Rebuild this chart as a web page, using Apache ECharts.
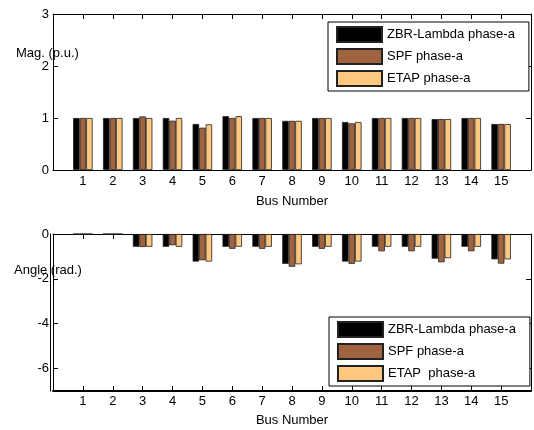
<!DOCTYPE html>
<html><head><meta charset="utf-8">
<script src="https://cdn.jsdelivr.net/npm/echarts@6/dist/echarts.min.js"></script>
<style>html,body{margin:0;padding:0;background:#fff}#c{width:534px;height:430px}</style>
</head><body><div id="c"></div>
<script>
const buses = [1,2,3,4,5,6,7,8,9,10,11,12,13,14,15];
const magZBR  = [1.0,1.0,1.0,1.0,0.885,1.035,1.0,0.945,1.0,0.923,1.0,1.0,0.98,1.0,0.885];
const magSPF  = [1.0,1.0,1.03,0.948,0.813,1.0,1.0,0.945,1.0,0.897,1.0,1.0,0.98,1.0,0.885];
const magETAP = [1.0,1.0,1.0,1.0,0.878,1.035,1.0,0.945,1.0,0.923,1.0,1.0,0.98,1.0,0.885];
const angZBR  = [0,0,-0.57,-0.57,-1.23,-0.57,-0.57,-1.33,-0.57,-1.23,-0.57,-0.57,-1.1,-0.57,-1.13];
const angSPF  = [0,0,-0.58,-0.5,-1.17,-0.66,-0.66,-1.46,-0.66,-1.33,-0.77,-0.77,-1.26,-0.77,-1.32];
const angETAP = [0,0,-0.57,-0.57,-1.23,-0.57,-0.57,-1.35,-0.57,-1.23,-0.57,-0.57,-1.08,-0.57,-1.13];
const magTicks = [0,1,2,3];
const angTicks = [0,-2,-4,-6];
const namesTop = ['ZBR-Lambda phase-a','SPF phase-a','ETAP phase-a'];
const namesBot = ['ZBR-Lambda phase-a','SPF phase-a','ETAP  phase-a'];
const colors = ['#000000','#9f643f','#ffc77f'];

const FONT = "'Liberation Sans', Arial, sans-serif";
const txt = {color:'#000', fontSize:13, fontFamily:FONT};
const pairs = (ys) => buses.map((b,i)=>[b, ys[i]]);

function xAxes(gi, bottomW, nameGap, margin){
  return [{
    gridIndex:gi, type:'value', position:'bottom', min:0, max:16, interval:1,
    axisLine:{show:true, onZero:false, lineStyle:{color:'#000', width:bottomW}},
    axisTick:{show:true, inside:true, length:5, lineStyle:{color:'#000'}},
    axisLabel:{...txt, margin:margin, formatter:(v)=> (v>=1 && v<=15) ? String(v) : ''},
    splitLine:{show:false},
    name:'Bus Number', nameLocation:'middle', nameGap:nameGap, nameTextStyle:{...txt}
  },{
    gridIndex:gi, type:'value', position:'top', min:0, max:16, interval:1,
    axisLine:{show:true, onZero:false, lineStyle:{color:'#000', width:1}},
    axisTick:{show:true, inside:true, length:5, lineStyle:{color:'#000'}},
    axisLabel:{show:false}, splitLine:{show:false}
  }];
}
function yAxes(gi, min, max, ticks, extra){
  const base = {
    gridIndex:gi, type:'value', min:min, max:max,
    axisLine:{show:true, onZero:false, lineStyle:{color:'#000', width:1}},
    axisTick:{show:true, inside:true, length:5, lineStyle:{color:'#000'}, customValues:ticks},
    splitLine:{show:false}
  };
  const arr = [
    {...base, position:'left', axisLabel:{...txt, margin:4, customValues:ticks}},
    {...base, position:'right', axisLabel:{show:false}}
  ];
  if (extra) arr.push({...base, position:'left', offset:2.5, axisTick:{show:false}, axisLabel:{show:false}});
  return arr;
}
function bars(names, data, xi, yi){
  return names.map((n,k)=>({
    name:n, type:'bar', xAxisIndex:xi, yAxisIndex:yi,
    barWidth:6.5, barGap:'0%',
    itemStyle:{color:colors[k], borderColor:'#222', borderWidth:0.8},
    data:pairs(data[k]), silent:true, animation:false
  }));
}
function legend(names, left, top){
  return {
    data:names, orient:'vertical', left:left, top:top,
    itemWidth:45, itemHeight:15, itemGap:5, padding:[4,14,4,8],
    borderColor:'#000', borderWidth:1, backgroundColor:'#fff',
    textStyle:{...txt, lineHeight:15, padding:[0,0,0,0]}, icon:'rect', selectedMode:false
  };
}

const chart = echarts.init(document.getElementById('c'), null, {renderer:'canvas'});
chart.setOption({
  animation:false,
  backgroundColor:'#fff',
  title:[
    {text:'Mag. (p.u.)', left:16, top:47, padding:0, textStyle:{...txt, fontWeight:'normal'}},
    {text:'Angle (rad.)', left:14, top:264, padding:0, textStyle:{...txt, fontWeight:'normal'}}
  ],
  grid:[
    {left:53, top:14, width:484, height:156},
    {left:53, top:234, width:484, height:157}
  ],
  xAxis:[...xAxes(0,1.2,25,5), ...xAxes(1,2,23,4)],
  yAxis:[...yAxes(0,0,3,magTicks,false), ...yAxes(1,-7,0,angTicks,true)],
  legend:[legend(namesTop,328,22), legend(namesBot,329,317)],
  series:[
    ...bars(namesTop,[magZBR,magSPF,magETAP],0,0),
    ...bars(namesBot,[angZBR,angSPF,angETAP],2,2)
  ]
});
</script></body></html>
